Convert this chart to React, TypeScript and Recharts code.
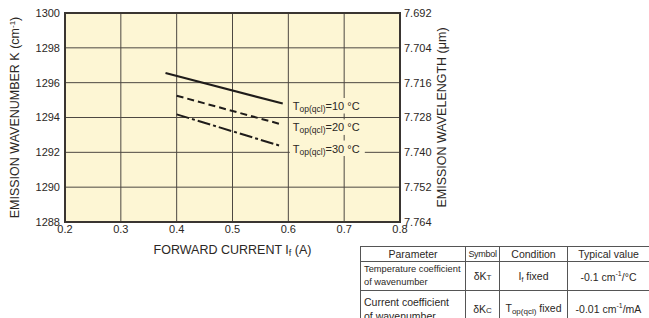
import type { ReactElement } from 'react';
import {
  CartesianGrid,
  Label,
  Line,
  LineChart,
  ReferenceArea,
  ReferenceDot,
  XAxis,
  YAxis,
} from 'recharts';

// forward current (A) vs emission wavenumber (cm-1), one pair per temperature
const current10 = [0.38, 0.59];
const wavenumber10 = [1296.55, 1294.8];
const current20 = [0.4, 0.585];
const wavenumber20 = [1295.25, 1293.63];
const current30 = [0.4, 0.585];
const wavenumber30 = [1294.18, 1292.38];

const currentTicks = [0.2, 0.3, 0.4, 0.5, 0.6, 0.7, 0.8];
const wavenumberTicks = [1288, 1290, 1292, 1294, 1296, 1298, 1300];
const wavelengthTicks = [7.692, 7.704, 7.716, 7.728, 7.74, 7.752, 7.764];

// series tags placed to the right of the line ends
const tagTemps = [10, 20, 30];
const tagCurrent = 0.608;
const tagWavenumber = [1294.43, 1293.2, 1291.99];

const FONT = '"Liberation Sans", Arial, Helvetica, sans-serif';
const INK = '#2b2724';
const PLOT_BG = '#fdf6d4';
const GRID = '#4d4842';

const pairs = (xs: number[], ys: number[]) => xs.map((i, n) => ({ i, k: ys[n] }));

const series = [
  { name: '10', data: pairs(current10, wavenumber10), dash: undefined },
  { name: '20', data: pairs(current20, wavenumber20), dash: '7 4' },
  { name: '30', data: pairs(current30, wavenumber30), dash: '13 3 3 3' },
];

// the wavelength axis shares the wavenumber scale; labels are read from wavelengthTicks
// (top of the plot = shortest wavelength)
const wavelengthLabel = (v: number): string => {
  const n = wavenumberTicks.indexOf(v);
  return n < 0 ? '' : wavelengthTicks[wavelengthTicks.length - 1 - n].toFixed(3);
};

function Tag({ cx, cy, temp }: { cx?: number; cy?: number; temp: number }): ReactElement | null {
  if (cx == null || cy == null) return null;
  return (
    <g>
      <rect x={cx - 3} y={cy - 12} width={75} height={15.5} fill={PLOT_BG} />
      <text x={cx} y={cy} fontFamily={FONT} fontSize={11} fill={INK}>
        T
        <tspan fontSize={8.5} dy={2}>op(qcl)</tspan>
        <tspan dy={-2}>={temp} °C</tspan>
      </text>
    </g>
  );
}

function XTitle(props: any): ReactElement {
  const vb = props.viewBox;
  return (
    <text x={vb.x + vb.width / 2} y={vb.y + 32} textAnchor="middle" fontFamily={FONT} fontSize={12.5} fill={INK}>
      FORWARD CURRENT I<tspan fontSize={9} dy={2}>f</tspan>
      <tspan dy={-2}> (A)</tspan>
    </text>
  );
}

function LeftTitle(props: any): ReactElement {
  const vb = props.viewBox;
  const x = vb.x + 9;
  const y = vb.y + vb.height / 2;
  return (
    <text
      x={x}
      y={y}
      transform={`rotate(-90 ${x} ${y})`}
      textAnchor="middle"
      fontFamily={FONT}
      fontSize={12.5}
      fill={INK}
    >
      EMISSION WAVENUMBER K (cm<tspan fontSize={8} dy={-4}>-1</tspan>
      <tspan dy={4}>)</tspan>
    </text>
  );
}

function RightTitle(props: any): ReactElement {
  const vb = props.viewBox;
  const x = vb.x + 46;
  const y = vb.y + vb.height / 2;
  return (
    <text
      x={x}
      y={y}
      transform={`rotate(-90 ${x} ${y})`}
      textAnchor="middle"
      fontFamily={FONT}
      fontSize={12.5}
      fill={INK}
    >
      EMISSION WAVELENGTH (μm)
    </text>
  );
}

const cell: React.CSSProperties = {
  border: '1px solid #555',
  padding: 0,
  textAlign: 'center',
  verticalAlign: 'middle',
  color: INK,
};

function CoefTable(): ReactElement {
  return (
    <table
      style={{
        position: 'absolute',
        left: 360,
        top: 246,
        width: 289,
        borderCollapse: 'collapse',
        tableLayout: 'fixed',
        fontFamily: FONT,
        fontSize: 10.5,
        background: '#fff',
      }}
    >
      <colgroup>
        <col style={{ width: 105 }} />
        <col style={{ width: 34 }} />
        <col style={{ width: 68 }} />
        <col style={{ width: 82 }} />
      </colgroup>
      <tbody>
        <tr style={{ height: 15 }}>
          <td style={cell}>Parameter</td>
          <td style={{ ...cell, fontSize: 9, letterSpacing: -0.3 }}>Symbol</td>
          <td style={cell}>Condition</td>
          <td style={cell}>Typical value</td>
        </tr>
        <tr style={{ height: 29 }}>
          <td style={{ ...cell, textAlign: 'left', paddingLeft: 3, fontSize: 9.3, lineHeight: '13px' }}>
            Temperature coefficient
            <br />
            of wavenumber
          </td>
          <td style={cell}>
            δK<span style={{ fontSize: 8 }}>T</span>
          </td>
          <td style={cell}>
            I<span style={{ fontSize: 7, verticalAlign: -2 }}>f</span> fixed
          </td>
          <td style={cell}>
            -0.1 cm<sup style={{ fontSize: 7 }}>-1</sup>/°C
          </td>
        </tr>
        <tr style={{ height: 36 }}>
          <td style={{ ...cell, textAlign: 'left', paddingLeft: 3, fontSize: 10.5, lineHeight: '14px' }}>
            Current coefficient
            <br />
            of wavenumber
          </td>
          <td style={cell}>
            δK<span style={{ fontSize: 8 }}>C</span>
          </td>
          <td style={cell}>
            T<span style={{ fontSize: 8, verticalAlign: -2 }}>op(qcl)</span> fixed
          </td>
          <td style={cell}>
            -0.01 cm<sup style={{ fontSize: 7 }}>-1</sup>/mA
          </td>
        </tr>
      </tbody>
    </table>
  );
}

export default function App(): ReactElement {
  const tick = { fontFamily: FONT, fontSize: 11, fill: INK };
  return (
    <div
      style={{
        position: 'absolute',
        left: 0,
        top: 0,
        width: 649,
        height: 318,
        overflow: 'hidden',
        background: '#fff',
      }}
    >
      <LineChart width={649} height={318} margin={{ top: 13, right: 189, bottom: 66, left: 10 }}>
        <CartesianGrid yAxisId="k" stroke={GRID} strokeWidth={1} fill={PLOT_BG} fillOpacity={1} />
        <XAxis
          dataKey="i"
          type="number"
          domain={[0.2, 0.8]}
          ticks={currentTicks}
          tickFormatter={(v: number) => v.toFixed(1)}
          height={30}
          axisLine={false}
          tickLine={false}
          tickSize={0}
          tickMargin={3}
          tick={tick}
          interval={0}
        >
          <Label content={XTitle} />
        </XAxis>
        <YAxis
          yAxisId="k"
          type="number"
          domain={[1288, 1300]}
          ticks={wavenumberTicks}
          width={55}
          axisLine={false}
          tickLine={false}
          tickSize={0}
          tickMargin={5}
          tick={tick}
          interval={0}
        >
          <Label content={LeftTitle} />
        </YAxis>
        <YAxis
          yAxisId="wl"
          orientation="right"
          type="number"
          dataKey="k"
          domain={[1288, 1300]}
          allowDataOverflow
          ticks={wavenumberTicks}
          tickFormatter={wavelengthLabel}
          width={60}
          axisLine={false}
          tickLine={false}
          tickSize={0}
          tickMargin={4}
          tick={tick}
          interval={0}
        >
          <Label content={RightTitle} />
        </YAxis>
        {tagTemps.map((t, n) => (
          <ReferenceDot
            key={t}
            yAxisId="k"
            x={tagCurrent}
            y={tagWavenumber[n]}
            r={0}
            shape={(p: any) => <Tag cx={p.cx} cy={p.cy} temp={t} />}
          />
        ))}
        <ReferenceArea
          yAxisId="k"
          x1={0.2}
          x2={0.8}
          y1={1288}
          y2={1300}
          fill="none"
          stroke="#3a3531"
          strokeWidth={2}
        />
        {series.map((s) => (
          <Line
            key={s.name}
            yAxisId="k"
            data={s.data}
            dataKey="k"
            type="linear"
            stroke="#1f1c1a"
            strokeWidth={2}
            strokeDasharray={s.dash}
            dot={false}
            activeDot={false}
            isAnimationActive={false}
          />
        ))}
      </LineChart>
      <CoefTable />
    </div>
  );
}
